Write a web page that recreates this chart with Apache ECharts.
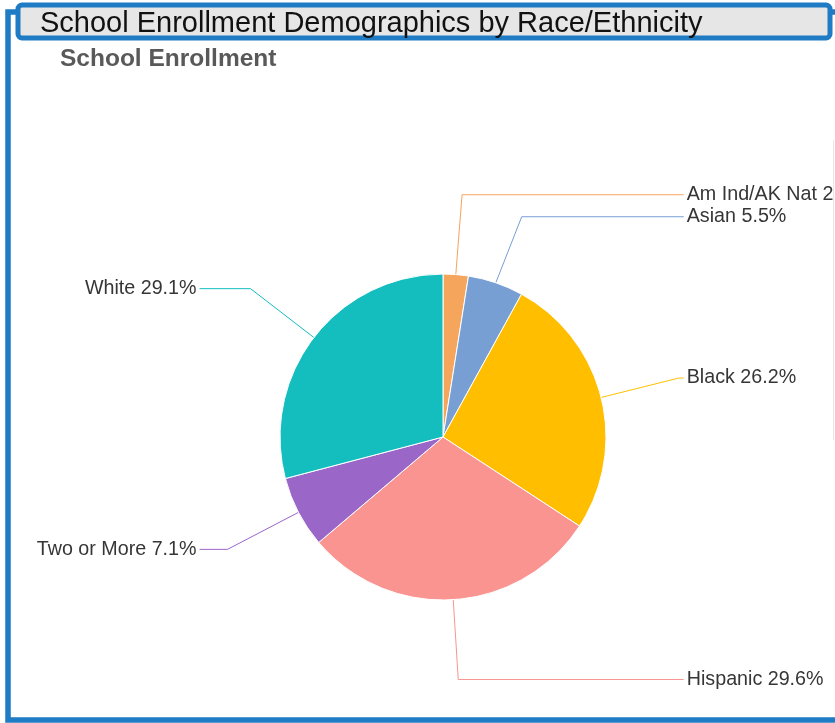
<!DOCTYPE html>
<html>
<head>
<meta charset="utf-8">
<title>School Enrollment Demographics by Race/Ethnicity</title>
<script src="https://cdn.jsdelivr.net/npm/echarts@6/dist/echarts.min.js"></script>
<style>
  html, body { margin: 0; padding: 0; background: #ffffff; }
  #chart { width: 835px; height: 723px; }
</style>
</head>
<body>
<div id="chart"></div>
<script>
// Enrollment share by race/ethnicity (percent of students)
const categories = ['Am Ind/AK Nat', 'Asian', 'Black', 'Hispanic', 'Two or More', 'White'];
const shares = [2.5, 5.5, 26.2, 29.6, 7.1, 29.1];
const sliceColors = ['#f5a55c', '#779fd4', '#ffbf00', '#f99491', '#9a66c8', '#14bebe'];

const pieData = categories.map((name, i) => {
  const item = { name: name, value: shares[i], itemStyle: { color: sliceColors[i] } };
  if (name === 'Am Ind/AK Nat') {
    // long label runs off the right edge of the panel instead of being shortened
    item.label = { width: 240, overflow: 'none' };
  }
  if (name === 'Two or More') {
    // longer tail on the left so left-hand labels sit further out
    item.labelLine = { length2: 28 };
  }
  return item;
});

const chart = echarts.init(document.getElementById('chart'), null, { renderer: 'canvas' });

chart.setOption({
  animation: false,
  backgroundColor: '#ffffff',
  title: [
    {
      text: 'School Enrollment Demographics by Race/Ethnicity',
      left: 35, top: 4,
      textStyle: { fontFamily: 'Liberation Sans, Arial, sans-serif', fontSize: 29, fontWeight: 'normal', color: '#111111' }
    },
    {
      text: 'School Enrollment',
      left: 55, top: 42,
      textStyle: { fontFamily: 'Liberation Sans, Arial, sans-serif', fontSize: 24.5, fontWeight: 'bold', color: '#595959' }
    }
  ],
  graphic: [
    // outer blue frame
    { type: 'rect', z: -1, shape: { x: 8, y: 12, width: 840, height: 708 },
      style: { fill: 'none', stroke: '#1e7bc4', lineWidth: 5.5 } },
    // faint divider on the right
    { type: 'line', shape: { x1: 833.5, y1: 140, x2: 833.5, y2: 440 },
      style: { stroke: '#e8e8e8', lineWidth: 1 } },
    // title banner
    { type: 'rect', z: 0, shape: { x: 18, y: 5, width: 812, height: 33, r: 4 },
      style: { fill: '#e6e6e6', stroke: '#1e7bc4', lineWidth: 5 } }
  ],
  series: [
    {
      type: 'pie',
      center: [443, 437],
      radius: 163,
      startAngle: 90,
      clockwise: true,
      data: pieData,
      itemStyle: { borderColor: '#ffffff', borderWidth: 1 },
      label: {
        show: true,
        formatter: p => p.name + ' ' + p.value.toFixed(1) + '%',
        fontFamily: 'Liberation Sans, Arial, sans-serif',
        fontSize: 19.7,
        lineHeight: 17,
        color: '#363636',
        alignTo: 'labelLine',
        distanceToLabelLine: 3
      },
      labelLine: {
        show: true,
        length: 80,
        length2: 5,
        lineStyle: { width: 1 }
      },
      emphasis: { disabled: true }
    }
  ]
});
</script>
</body>
</html>
